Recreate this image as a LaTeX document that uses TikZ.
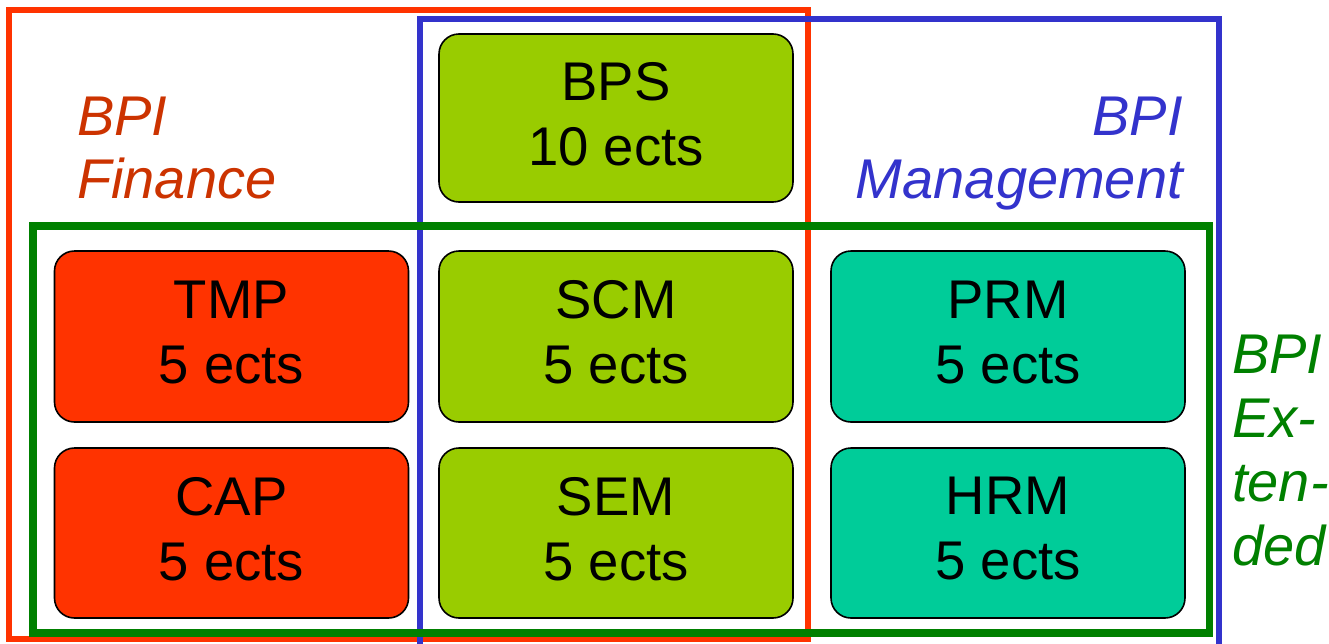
\documentclass[tikz,border=0pt]{standalone}
\usepackage{fontspec}
\setmainfont{Liberation Sans}
\definecolor{framered}{HTML}{FF3300}
\definecolor{frameblue}{HTML}{3333CC}
\definecolor{framegreen}{HTML}{008000}
\definecolor{labelred}{HTML}{CC3300}
\definecolor{fillred}{HTML}{FF3300}
\definecolor{fillyg}{HTML}{99CC00}
\definecolor{fillteal}{HTML}{00CC99}
\begin{document}
\begin{tikzpicture}[x=1pt,y=-1pt,
  course/.style={draw=black, line width=1.6pt, rounded corners=20pt,
    minimum width=354pt, inner sep=0pt, align=center, text depth=9pt,
    font=\fontsize{54.5}{65}\selectfont},
  grouplabel/.style={inner sep=0pt, font=\fontsize{56}{63}\selectfont\itshape},
  frame/.style={line width=6pt}]
\useasboundingbox (0,0) rectangle (1329,643);
\clip (0,0) rectangle (1329,643);
\fill[white] (0,0) rectangle (1329,643);
\draw[frame, draw=framered] (9,10) rectangle (808,639);
\draw[frame, draw=frameblue] (420,19) rectangle (1219,670);
\draw[frame, line width=7.5pt, draw=framegreen] (33,226) rectangle (1209.5,633);

\node[course, fill=fillyg, minimum height=168pt] (bps) at (616,118) {BPS\\10 ects};
\node[course, fill=fillred, minimum height=171pt] (tmp) at (231.5,336.5) {TMP\\5 ects};
\node[course, fill=fillyg, minimum height=171pt] (scm) at (616,336.5) {SCM\\5 ects};
\node[course, fill=fillteal, minimum height=171pt] (prm) at (1008,336.5) {PRM\\5 ects};
\node[course, fill=fillred, minimum height=170pt] (cap) at (231.5,533) {CAP\\5 ects};
\node[course, fill=fillyg, minimum height=170pt] (sem) at (616,533) {SEM\\5 ects};
\node[course, fill=fillteal, minimum height=170pt] (hrm) at (1008,533) {HRM\\5 ects};

\node[grouplabel, text=labelred, anchor=north west, align=left] (fin) at (77,97) {BPI\\Finance};
\node[grouplabel, text=frameblue, anchor=north east, align=right] (man) at (1183,97) {BPI\\Management};
\node[grouplabel, text=framegreen, anchor=north west, align=left,
  font=\fontsize{56}{64}\selectfont\itshape] (ext) at (1232,335) {BPI\\Ex-\\ten-\\ded};
\end{tikzpicture}
\end{document}
